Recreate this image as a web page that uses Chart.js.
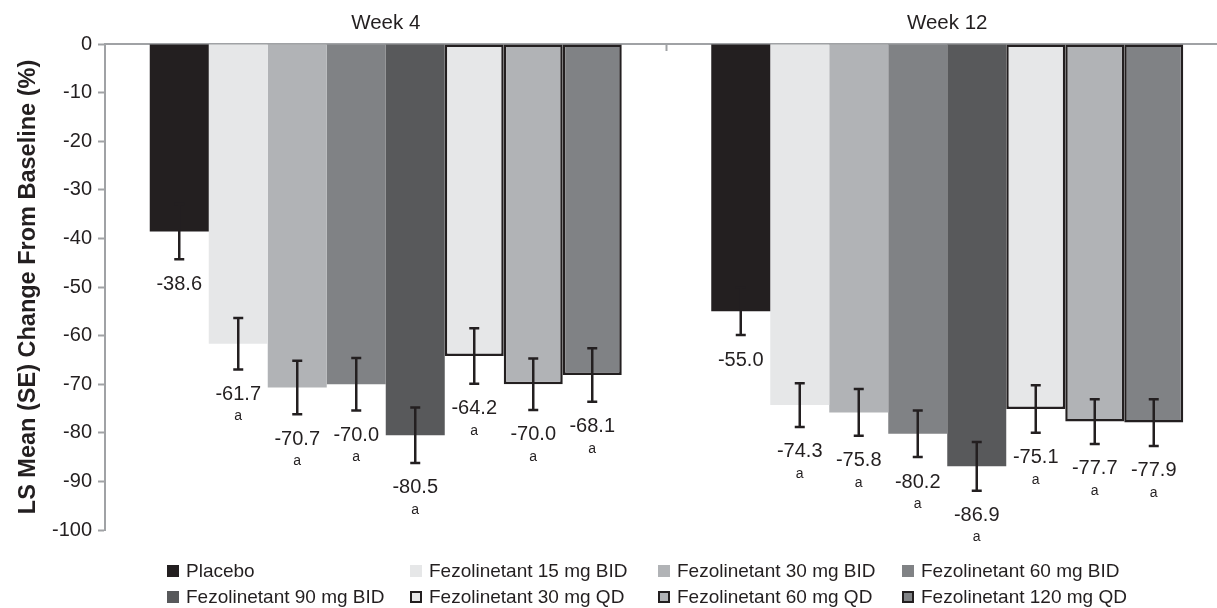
<!DOCTYPE html>
<html>
<head>
<meta charset="utf-8">
<script src="https://cdn.jsdelivr.net/npm/chart.js@4"></script>
<style>
  html, body { margin: 0; padding: 0; background: #fff; overflow: hidden; width: 1217px; height: 608px; }
  #wrap { position: absolute; left: 0; top: 0; width: 1228px; height: 548px; }
  #legend { position: absolute; left: 0; top: 0; width: 1217px; height: 608px; pointer-events: none; }
  .li { position: absolute; display: flex; align-items: center; font-family: "Liberation Sans", Arial, sans-serif; font-size: 19px; color: #231f20; white-space: nowrap; }
  .box { width: 12px; height: 12px; box-sizing: border-box; margin-right: 7px; }
</style>
</head>
<body>
<div id="wrap"><canvas id="c" width="1228" height="548"></canvas></div>
<div id="legend"></div>
<script>
// ---- data ----
const categories = ['Week 4', 'Week 12'];
const seriesLabels = [
  'Placebo',
  'Fezolinetant 15 mg BID',
  'Fezolinetant 30 mg BID',
  'Fezolinetant 60 mg BID',
  'Fezolinetant 90 mg BID',
  'Fezolinetant 30 mg QD',
  'Fezolinetant 60 mg QD',
  'Fezolinetant 120 mg QD'
];
const week4Values  = [-38.6, -61.7, -70.7, -70.0, -80.5, -64.2, -70.0, -68.1];
const week12Values = [-55.0, -74.3, -75.8, -80.2, -86.9, -75.1, -77.7, -77.9];
const week4SE  = [5.7, 5.3, 5.5, 5.4, 5.7, 5.7, 5.3, 5.5];
const week12SE = [4.9, 4.5, 4.8, 4.8, 5.0, 4.9, 4.6, 4.8];
const significance = ['', 'a', 'a', 'a', 'a', 'a', 'a', 'a'];
const yTicks = { min: -100, max: 0, step: 10 };

// ---- styles ----
const fills = ['#231f20', '#e6e7e8', '#b1b3b6', '#808285', '#58595b', '#e6e7e8', '#b1b3b6', '#808285'];
const bordered = [false, false, false, false, false, true, true, true];
const ink = '#231f20';
const axisGray = '#a0a2a5';
const FONT = '"Liberation Sans", Arial, sans-serif';

const datasets = seriesLabels.map((lab, i) => ({
  label: lab,
  data: [week4Values[i], week12Values[i]],
  backgroundColor: fills[i],
  borderColor: ink,
  borderWidth: bordered[i] ? 2.5 : 0,
  borderSkipped: false,
  categoryPercentage: 0.8406,
  barPercentage: 1.0
}));
const seByDataset = seriesLabels.map((_, i) => [week4SE[i], week12SE[i]]);

const errorPlugin = {
  id: 'errs',
  afterDatasetsDraw(chart) {
    const ctx = chart.ctx;
    const ys = chart.scales.y;
    ctx.save();
    chart.data.datasets.forEach((ds, i) => {
      const meta = chart.getDatasetMeta(i);
      meta.data.forEach((bar, j) => {
        const v = ds.data[j];
        const se = seByDataset[i][j];
        const x = bar.x;
        const yT = ys.getPixelForValue(v + se);
        const yB = ys.getPixelForValue(v - se);
        ctx.strokeStyle = ink;
        ctx.lineWidth = 2.5;
        ctx.beginPath();
        ctx.moveTo(x, yT); ctx.lineTo(x, yB);
        ctx.moveTo(x - 5, yT); ctx.lineTo(x + 5, yT);
        ctx.moveTo(x - 5, yB); ctx.lineTo(x + 5, yB);
        ctx.stroke();
        ctx.fillStyle = ink;
        ctx.textAlign = 'center';
        ctx.textBaseline = 'middle';
        ctx.font = '20px ' + FONT;
        ctx.fillText(v.toFixed(1), x, yB + 25);
        if (significance[i]) {
          ctx.font = '14px ' + FONT;
          ctx.fillText(significance[i], x, yB + 47);
        }
      });
    });
    ctx.restore();
  },
  afterDraw(chart) {
    const xs = chart.scales.x;
    const ctx = chart.ctx;
    const mid = (xs.getPixelForValue(0) + xs.getPixelForValue(1)) / 2;
    ctx.save();
    ctx.strokeStyle = axisGray;
    ctx.lineWidth = 2;
    ctx.beginPath();
    ctx.moveTo(mid, chart.chartArea.top);
    ctx.lineTo(mid, chart.chartArea.top + 7);
    ctx.stroke();
    ctx.restore();
  }
};

const chart = new Chart(document.getElementById('c'), {
  type: 'bar',
  data: { labels: categories, datasets },
  plugins: [errorPlugin],
  options: {
    responsive: false,
    animation: false,
    layout: { padding: { left: 0, right: 0, top: 0, bottom: 12 } },
    plugins: { legend: { display: false }, tooltip: { enabled: false } },
    scales: {
      x: {
        position: 'top',
        z: 1,
        offset: true,
        grid: { display: true, drawOnChartArea: false, drawTicks: false },
        border: { display: true, color: axisGray, width: 2 },
        ticks: { color: ink, font: { family: FONT, size: 20.5 }, padding: 8 },
        afterFit(s) { s.height = 44; }
      },
      y: {
        min: yTicks.min,
        max: yTicks.max,
        ticks: { stepSize: yTicks.step, color: ink, font: { family: FONT, size: 20 }, padding: 6 },
        grid: { drawOnChartArea: false, tickLength: 7, color: axisGray, tickWidth: 2 },
        border: { display: true, color: axisGray, width: 2 },
        title: {
          display: true,
          text: 'LS Mean (SE) Change From Baseline (%)',
          color: ink,
          font: { family: FONT, size: 23.5, weight: 'bold' },
          padding: { top: 14, bottom: 0 }
        },
        afterFit(s) { s.width = 105; }
      }
    }
  }
});

// ---- HTML legend built from the chart's datasets ----
const legend = document.getElementById('legend');
const colLeft = [167, 410, 658, 902];
const rowCenter = [571, 597];
chart.data.datasets.forEach((ds, i) => {
  const item = document.createElement('div');
  item.className = 'li';
  item.style.left = colLeft[i % 4] + 'px';
  item.style.top = (rowCenter[Math.floor(i / 4)] - 12) + 'px';
  item.style.height = '24px';
  const box = document.createElement('span');
  box.className = 'box';
  box.style.background = ds.backgroundColor;
  if (ds.borderWidth > 0) box.style.border = '2px solid ' + ink;
  const txt = document.createElement('span');
  txt.textContent = ds.label;
  item.appendChild(box);
  item.appendChild(txt);
  legend.appendChild(item);
});
</script>
</body>
</html>
